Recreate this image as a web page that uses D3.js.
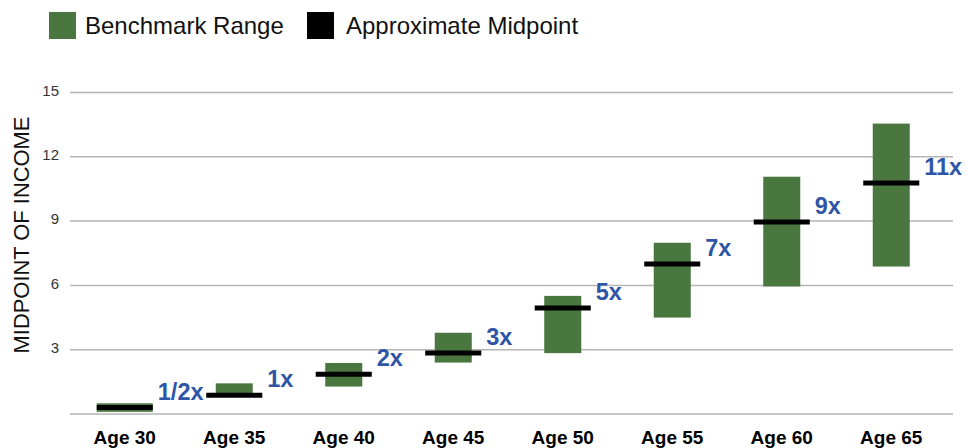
<!DOCTYPE html>
<html>
<head>
<meta charset="utf-8">
<script src="https://cdn.jsdelivr.net/npm/d3@7"></script>
<style>
  html, body { margin: 0; padding: 0; background: #fff; }
  svg { display: block; font-family: "Liberation Sans", Arial, sans-serif; }
</style>
</head>
<body>
<svg id="chart" width="966" height="448"></svg>
<script>
const categories = ["Age 30", "Age 35", "Age 40", "Age 45", "Age 50", "Age 55", "Age 60", "Age 65"];
const rangeLow   = [0.1, 0.85, 1.28, 2.4, 2.84, 4.5, 5.95, 6.88];
const rangeHigh  = [0.5, 1.43, 2.38, 3.79, 5.51, 7.99, 11.07, 13.55];
const midpoints  = [0.3, 0.87, 1.86, 2.85, 4.94, 7.0, 8.96, 10.78];
const multLabels = ["1/2x", "1x", "2x", "3x", "5x", "7x", "9x", "11x"];
const yTicks     = [3, 6, 9, 12, 15];
const gridValues = [0, 3, 6, 9, 12, 15];
const yTitle     = "MIDPOINT OF INCOME";
const legendItems = ["Benchmark Range", "Approximate Midpoint"];

const GREEN = "#4a763f";
const BLUE = "#2f56a6";

const svg = d3.select("#chart");

const x = d3.scaleBand().domain(categories).range([70, 946]).padding(0);
const y = d3.scaleLinear().domain([0, 15]).range([414, 92.5]);

// gridlines
svg.append("g").selectAll("line").data(gridValues).join("line")
  .attr("x1", 70).attr("x2", 953)
  .attr("y1", d => y(d)).attr("y2", d => y(d))
  .attr("stroke", "#b5b5b5").attr("stroke-width", 1.5);

// y tick labels
svg.append("g").selectAll("text").data(yTicks).join("text")
  .attr("x", 59).attr("y", d => y(d) - 2)
  .attr("dy", "0.35em")
  .attr("text-anchor", "end")
  .attr("font-size", 15).attr("fill", "#333")
  .text(d => d);

// y title
svg.append("text")
  .attr("transform", "translate(29,235) rotate(-90)")
  .attr("text-anchor", "middle")
  .attr("font-size", 21.9).attr("fill", "#111")
  .text(yTitle);

// x labels
svg.append("g").selectAll("text").data(categories).join("text")
  .attr("x", d => x(d) + x.bandwidth() / 2)
  .attr("y", 444)
  .attr("text-anchor", "middle")
  .attr("font-size", 19).attr("font-weight", "bold").attr("fill", "#000")
  .text(d => d);

const barW = x.bandwidth() * 0.338;
const lineW = x.bandwidth() * 0.512;

// range bars
svg.append("g").selectAll("rect").data(categories).join("rect")
  .attr("x", (d, i) => x(d) + x.bandwidth() / 2 - (i === 0 ? lineW : barW) / 2)
  .attr("width", (d, i) => i === 0 ? lineW : barW)
  .attr("y", (d, i) => y(rangeHigh[i]))
  .attr("height", (d, i) => y(rangeLow[i]) - y(rangeHigh[i]))
  .attr("fill", GREEN);

// midpoint lines
svg.append("g").selectAll("line").data(categories).join("line")
  .attr("x1", d => x(d) + x.bandwidth() / 2 - lineW / 2)
  .attr("x2", d => x(d) + x.bandwidth() / 2 + lineW / 2)
  .attr("y1", (d, i) => y(midpoints[i]))
  .attr("y2", (d, i) => y(midpoints[i]))
  .attr("stroke", "#000").attr("stroke-width", 5);

// multiplier labels
svg.append("g").selectAll("text").data(categories).join("text")
  .attr("x", d => x(d) + x.bandwidth() / 2 + lineW / 2 + 5)
  .attr("y", (d, i) => y(midpoints[i]) - 8)
  .attr("font-size", 23.5).attr("font-weight", "bold").attr("fill", BLUE)
  .text((d, i) => multLabels[i]);

// legend
const legend = svg.append("g");
legend.append("rect").attr("x", 49).attr("y", 12).attr("width", 27).attr("height", 27).attr("fill", GREEN);
legend.append("text").attr("x", 85).attr("y", 34).attr("font-size", 24).attr("fill", "#111").text(legendItems[0]);
legend.append("rect").attr("x", 307).attr("y", 12).attr("width", 27).attr("height", 27).attr("fill", "#000");
legend.append("text").attr("x", 346).attr("y", 34).attr("font-size", 24).attr("fill", "#111").text(legendItems[1]);
</script>
</body>
</html>
